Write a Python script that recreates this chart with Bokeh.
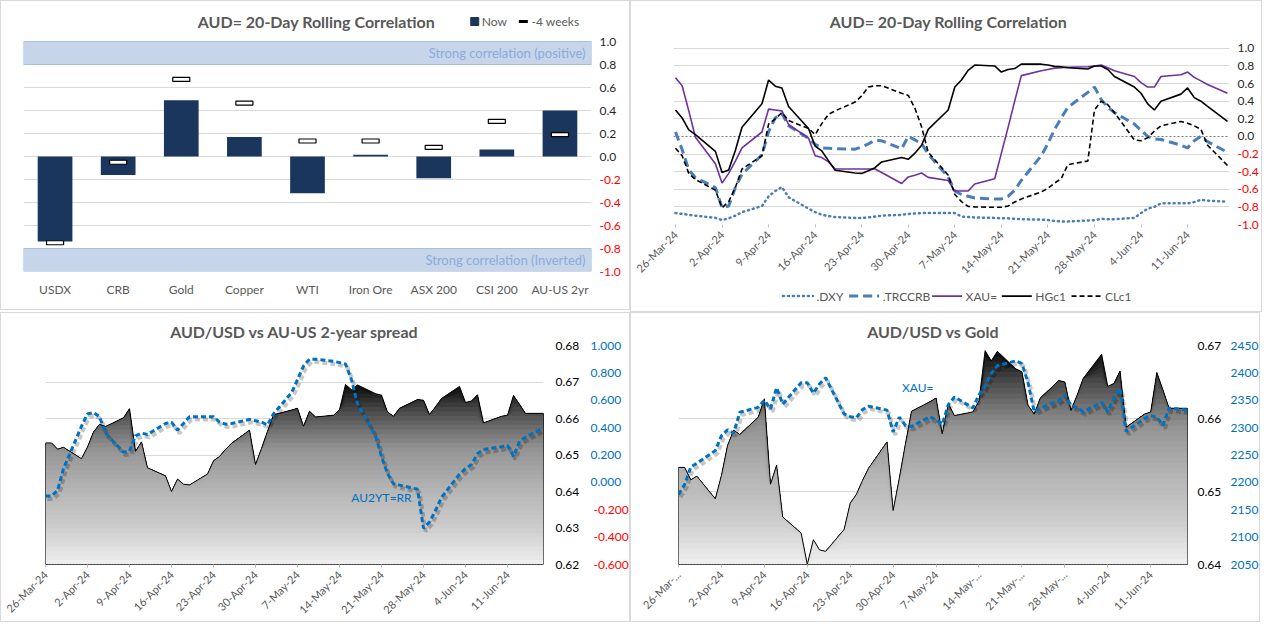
import numpy as np
import pandas as pd
from bokeh.plotting import figure
from bokeh.models import (Range1d, LinearAxis, FixedTicker, Label, Grid,
                          FactorRange, NumeralTickFormatter)
from bokeh.layouts import column, row
from bokeh.embed import file_html
from bokeh.resources import INLINE

# ------------------------------------------------------------------ data
categories = ["USDX", "CRB", "Gold", "Copper", "WTI", "Iron Ore", "ASX 200", "CSI 200", "AU-US 2yr"]
corr_now = [-0.74, -0.16, 0.49, 0.17, -0.32, 0.015, -0.19, 0.06, 0.40]
corr_4w = [-0.75, -0.05, 0.67, 0.465, 0.135, 0.135, 0.08, 0.305, 0.19]
STRONG = 0.8

start_date, end_date = "2024-03-26", "2024-06-17"   # trading days

dxy = [-0.87, -0.88, -0.89, -0.90,
       -0.925, -0.95, -0.93, -0.90, -0.86,
       -0.79, -0.68, -0.62, -0.575, -0.69,
       -0.82, -0.86, -0.89, -0.905, -0.915,
       -0.925, -0.925, -0.92, -0.91, -0.90,
       -0.89, -0.88, -0.875, -0.87, -0.87,
       -0.87, -0.87, -0.91, -0.915, -0.92,
       -0.925, -0.93, -0.93, -0.935, -0.94,
       -0.945, -0.95, -0.96, -0.965, -0.965,
       -0.955, -0.95, -0.935, -0.94, -0.94,
       -0.925, -0.87, -0.82, -0.80, -0.76,
       -0.76, -0.76, -0.745, -0.72, -0.73,
       -0.74]
trccrb = [0.05, -0.15, -0.38, -0.47,
          -0.58, -0.81, -0.79, -0.58, -0.43,
          -0.21, 0.055, 0.21, 0.26, 0.12,
          -0.02, -0.09, -0.13, -0.135, -0.14,
          -0.145, -0.12, -0.085, -0.045, -0.05,
          -0.14, 0.0, -0.04, -0.08, -0.20,
          -0.46, -0.62, -0.66, -0.68, -0.70,
          -0.71, -0.71, -0.68, -0.61, -0.50,
          -0.22, -0.08, 0.08, 0.21, 0.33,
          0.50, 0.56, 0.42, 0.33, 0.27,
          0.14, 0.07, 0.0, -0.03, -0.035,
          -0.10, -0.13, -0.05, 0.0, -0.06,
          -0.18]
xau_corr = [0.667, 0.575, 0.29, -0.01,
            -0.31, -0.53, -0.42, -0.28, -0.13,
            0.05, 0.31, 0.30, 0.29, 0.135,
            -0.02, -0.22, -0.24, -0.29, -0.37,
            -0.37, -0.37, -0.37, -0.37, -0.41,
            -0.535, -0.46, -0.44, -0.415, -0.465,
            -0.50, -0.62, -0.62, -0.62, -0.54,
            -0.48, -0.19, 0.10, 0.40, 0.69,
            0.745, 0.76, 0.775, 0.78, 0.785,
            0.79, 0.80, 0.81, 0.78, 0.745,
            0.68, 0.61, 0.56, 0.56, 0.68,
            0.70, 0.73, 0.67, 0.63, 0.59,
            0.49]
hgc1 = [0.30, 0.21, 0.075, 0.02,
        -0.17, -0.41, -0.38, -0.16, 0.105,
        0.37, 0.64, 0.57, 0.55, 0.34,
        0.09, -0.11, -0.165, -0.275, -0.385,
        -0.415, -0.42, -0.39, -0.355, -0.29,
        -0.24, -0.26, -0.19, -0.10, 0.08,
        0.30, 0.56, 0.64, 0.75, 0.81,
        0.80, 0.73, 0.76, 0.77, 0.82,
        0.82, 0.81, 0.795, 0.79, 0.78,
        0.765, 0.80, 0.80, 0.76, 0.68,
        0.56, 0.49, 0.37, 0.30, 0.40,
        0.48, 0.55, 0.44, 0.40, 0.34,
        0.17]
clc1 = [-0.135, -0.22, -0.42, -0.49,
        -0.61, -0.81, -0.74, -0.58, -0.37,
        -0.22, 0.14, 0.20, 0.27, 0.18,
        0.09, 0.02, 0.145, 0.25, 0.29,
        0.39, 0.46, 0.56, 0.575, 0.575,
        0.49, 0.465, 0.32, 0.11, -0.18,
        -0.44, -0.66, -0.74, -0.795, -0.80,
        -0.805, -0.805, -0.79, -0.745, -0.71,
        -0.63, -0.59, -0.53, -0.48, -0.32,
        -0.28, 0.30, 0.40, 0.36, 0.27,
        -0.04, -0.05, -0.015, 0.06, 0.12,
        0.17, 0.15, 0.12, 0.08, -0.10,
        -0.33]
audusd = [0.6533, 0.6533, 0.6516, 0.6521,
          0.6490, 0.6522, 0.6563, 0.6584, 0.6578,
          0.6602, 0.6627, 0.6510, 0.6536, 0.6465,
          0.6443, 0.6400, 0.6434, 0.6420, 0.6418,
          0.6448, 0.6484, 0.6496, 0.6515, 0.6532,
          0.6568, 0.6474, 0.6518, 0.6565, 0.6610,
          0.6623, 0.6628, 0.6579, 0.6620, 0.6604,
          0.6609, 0.6624, 0.6693, 0.6679, 0.6692,
          0.6668, 0.6664, 0.6618, 0.6606, 0.6628,
          0.6652, 0.6650, 0.6611, 0.6632, 0.6655,
          0.6688, 0.6644, 0.6648, 0.6665, 0.6588,
          0.6606, 0.6609, 0.6663, 0.6639, 0.6614,
          0.6614]
au2yt_spread = [-0.10, -0.10, -0.06, 0.10,
                0.41, 0.50, 0.51, 0.48, 0.36,
                0.22, 0.23, 0.34, 0.36, 0.35,
                0.43, 0.44, 0.38, 0.43, 0.48,
                0.48, 0.48, 0.44, 0.425, 0.43,
                0.46, 0.45, 0.44, 0.42, 0.50,
                0.655, 0.75, 0.85, 0.90, 0.90,
                0.885, 0.875, 0.865, 0.75, 0.575,
                0.34, 0.19, 0.065, -0.01, -0.02,
                -0.05, -0.335, -0.29, -0.205, -0.11,
                0.06, 0.10, 0.13, 0.21, 0.24,
                0.26, 0.27, 0.19, 0.30, 0.33,
                0.40]
gold = [2178, 2196, 2228, 2235,
        2258, 2285, 2296, 2290, 2328,
        2337, 2350, 2334, 2373, 2343,
        2382, 2382, 2363, 2380, 2391,
        2325, 2320, 2318, 2333, 2339,
        2332, 2292, 2319, 2304, 2302,
        2320, 2314, 2306, 2342, 2356,
        2336, 2360, 2376, 2399, 2413,
        2422, 2417, 2382, 2329, 2336,
        2349, 2360, 2340, 2337, 2329,
        2346, 2329, 2354, 2372, 2293,
        2317, 2322, 2319, 2304, 2336,
        2332]

tick_dates = ["2024-03-26", "2024-04-02", "2024-04-09", "2024-04-16", "2024-04-23", "2024-04-30",
              "2024-05-07", "2024-05-14", "2024-05-21", "2024-05-28", "2024-06-04", "2024-06-11"]
tick_labels = ["26-Mar-24", "2-Apr-24", "9-Apr-24", "16-Apr-24", "23-Apr-24", "30-Apr-24",
               "7-May-24", "14-May-24", "21-May-24", "28-May-24", "4-Jun-24", "11-Jun-24"]
tick_labels_gold = ["26-Mar-...", "2-Apr-24", "9-Apr-24", "16-Apr-24", "23-Apr-24", "30-Apr-24",
                    "7-May-24", "14-May-...", "21-May-...", "28-May-...", "4-Jun-24", "11-Jun-24"]

corr_ticks = [-1.0, -0.8, -0.6, -0.4, -0.2, 0.0, 0.2, 0.4, 0.6, 0.8, 1.0]
aud_ticks_l = [0.62, 0.63, 0.64, 0.65, 0.66, 0.67, 0.68]
spread_ticks = [-0.6, -0.4, -0.2, 0.0, 0.2, 0.4, 0.6, 0.8, 1.0]
aud_ticks_r = [0.64, 0.65, 0.66, 0.67]
gold_ticks = [2050, 2100, 2150, 2200, 2250, 2300, 2350, 2400, 2450]

legend_names = [".DXY", ".TRCCRB", "XAU=", "HGc1", "CLc1"]

# ------------------------------------------------------------------ style
FONT = "Lato"
TXT = "#595959"
DARK = "#262626"
GRID = "#d9d9d9"
RED = "#ff0000"
BLUE = "#0070c0"
SERIES_BLUE = "#4a7ebb"
NAVY = "#1b365d"
BORDER = {"border": "1px solid #d9d9d9"}
W, H = 630, 310

line_styles = {
    ".DXY": dict(line_color=SERIES_BLUE, line_width=2.5, line_dash="1 4", line_cap="round"),
    ".TRCCRB": dict(line_color=SERIES_BLUE, line_width=3, line_dash="9 5"),
    "XAU=": dict(line_color="#7030a0", line_width=1.6),
    "HGc1": dict(line_color="black", line_width=1.6),
    "CLc1": dict(line_color="black", line_width=1.6, line_dash="5 3"),
}

dates = pd.bdate_range(start_date, end_date)
day = np.array((dates - dates[0]).days, dtype=float)
tick_pos = [int((pd.Timestamp(t) - dates[0]).days) for t in tick_dates]
x_end = float(day[-1])


def base_fig(title, width=W, height=H, border=True, **kw):
    p = figure(width=width, height=height, output_backend="svg", toolbar_location=None,
               y_axis_location="right", **kw)
    if title:
        p.title.text = title
        p.title.align = "center"
        p.title.text_font = FONT
        p.title.text_font_size = "16px"
        p.title.text_font_style = "bold"
        p.title.text_color = TXT
    p.outline_line_color = None
    p.xgrid.grid_line_color = None
    p.ygrid.grid_line_color = GRID
    if border:
        p.styles = BORDER
    return p


def head_label(p, x, y, text, x_offset=0):
    p.add_layout(Label(x=x, y=y, x_offset=x_offset, text=text, text_align="center",
                       text_baseline="middle", text_color=TXT, text_font=FONT,
                       text_font_size="16px", text_font_style="bold"))


def style_axis(ax, color, size="12px"):
    ax.axis_line_color = None
    ax.major_tick_line_color = None
    ax.minor_tick_line_color = None
    ax.major_tick_out = 0
    ax.major_tick_in = 0
    ax.major_label_text_font = FONT
    ax.major_label_text_font_size = size
    ax.major_label_text_color = color


def extra_axis(p, ticks, fmt, color, standoff, range_name="default"):
    a = LinearAxis(y_range_name=range_name, ticker=FixedTicker(ticks=ticks),
                   formatter=NumeralTickFormatter(format=fmt))
    style_axis(a, color)
    a.major_label_standoff = standoff
    p.add_layout(a, "right")
    return a


def date_axis(p, labels, line_color=None, dash=None):
    ax = p.xaxis[0]
    ax.ticker = FixedTicker(ticks=tick_pos)
    ax.major_label_overrides = {t: s for t, s in zip(tick_pos, labels)}
    ax.major_label_orientation = np.pi / 4
    ax.major_label_text_font = FONT
    ax.major_label_text_font_size = "11px"
    ax.major_label_text_color = TXT
    ax.minor_tick_line_color = None
    ax.major_tick_in = 0
    ax.major_tick_out = 3
    ax.major_tick_line_color = "#bfbfbf"
    if line_color is None:
        ax.axis_line_color = None
    else:
        ax.axis_line_color = line_color
        ax.axis_line_dash = dash


def gray_at(t):
    v = np.interp(t, [0.0, 0.2, 0.42, 0.64, 0.74, 0.85, 0.95, 1.0],
                  [240, 205, 180, 148, 115, 75, 32, 10])
    v = int(round(v))
    return "#%02x%02x%02x" % (v, v, v)


def gradient_area(p, x, y, base, nbands=40):
    y = np.asarray(y, dtype=float)
    top = y.max()
    levels = np.linspace(base, top, nbands + 1)
    for k in range(nbands, 0, -1):
        t = (0.5 * (levels[k - 1] + levels[k]) - base) / (top - base)
        p.varea(x=x, y1=base, y2=np.minimum(y, levels[k]), fill_color=gray_at(t), fill_alpha=1.0)
    xs = np.concatenate([[x[0]], x, [x[-1]]])
    ys = np.concatenate([[base], y, [base]])
    p.patch(xs, ys, fill_alpha=0, line_color="black", line_width=1)


pos_corr = [t for t in corr_ticks if t >= 0]
neg_corr = [t for t in corr_ticks if t < 0]

# ------------------------------------------------------------------ panel 1 (bars)
# frame covers the title row too: 1.0 sits ~34 px below the frame top
p1_top = 1.0 + 34.0 / 115.0
head_y = 1.0 + 20.0 / 115.0
p1 = base_fig(None, x_range=FactorRange(factors=categories), y_range=Range1d(-1.0, p1_top),
              min_border_left=22, min_border_right=40, min_border_top=6, min_border_bottom=40)
p1.quad(left=0, right=len(categories), bottom=[STRONG, -1.0], top=[1.0, -STRONG],
        fill_color="#c6d5ea", line_color="#a9bfdd", line_width=1)
for yc, txt in [((STRONG + 1.0) / 2, "Strong correlation (positive)"),
                (-(STRONG + 1.0) / 2, "Strong correlation (Inverted)")]:
    p1.add_layout(Label(x=len(categories), y=yc, x_offset=-6, text=txt,
                        text_align="right", text_baseline="middle", text_color="#8eaadb",
                        text_font=FONT, text_font_size="13px"))
p1.vbar(x=categories, top=corr_now, bottom=0, width=0.55, fill_color=NAVY, line_color=None)
p1.rect(x=categories, y=corr_4w, width=0.27, height=4, height_units="screen",
        fill_color="white", line_color="black", line_width=1.2)
p1.ygrid.ticker = FixedTicker(ticks=corr_ticks)
ax = p1.yaxis[0]
ax.ticker = FixedTicker(ticks=pos_corr)
ax.formatter = NumeralTickFormatter(format="0.0")
style_axis(ax, DARK)
ax.major_label_standoff = 8
extra_axis(p1, neg_corr, "0.0", RED, -20)
style_axis(p1.xaxis[0], TXT)
p1.xaxis[0].major_label_standoff = 10
# title and legend in the head row
ncat = len(categories)
head_label(p1, ncat / 2, head_y, "AUD= 20-Day Rolling Correlation", x_offset=9)
p1.scatter(x=[ncat - 1.85], y=[head_y], marker="square", size=8, fill_color=NAVY, line_color=NAVY)
p1.scatter(x=[ncat - 1.08], y=[head_y], marker="dash", size=9, line_color="black", line_width=3)
p1.add_layout(Label(x=ncat - 1.74, y=head_y, text="Now", text_align="left", text_baseline="middle",
                    text_color=TXT, text_font=FONT, text_font_size="12px"))
p1.add_layout(Label(x=ncat - 0.95, y=head_y, text="-4 weeks", text_align="left", text_baseline="middle",
                    text_color=TXT, text_font=FONT, text_font_size="12px"))

# ------------------------------------------------------------------ panel 2 (lines)
# frame also covers the title row: 1.0 sits 41 px below the frame top, 88.5 px per unit
p2_top = 1.0 + 41.0 / 88.5
p2_head = 1.0 + 27.0 / 88.5
x2_lo, x2_hi = -0.3, x_end + 0.3
p2 = base_fig(None, height=282, border=False,
              x_range=Range1d(x2_lo, x2_hi), y_range=Range1d(-1.0, p2_top),
              min_border_left=42, min_border_right=6, min_border_top=6, min_border_bottom=56)
p2.ygrid.ticker = FixedTicker(ticks=[t for t in corr_ticks if t != 0])
p2.add_layout(Grid(dimension=1, ticker=FixedTicker(ticks=[0.0]), grid_line_color="#595959",
                   grid_line_dash="2 2", grid_line_width=0.8))
for name, ys in zip(legend_names, [dxy, trccrb, xau_corr, hgc1, clc1]):
    p2.line(day, ys, **line_styles[name])
ax = p2.yaxis[0]
ax.ticker = FixedTicker(ticks=pos_corr)
ax.formatter = NumeralTickFormatter(format="0.0")
style_axis(ax, DARK)
ax.major_label_standoff = 8
extra_axis(p2, neg_corr, "0.0", RED, -20)
date_axis(p2, tick_labels)
head_label(p2, (x2_lo + x2_hi) / 2, p2_head, "AUD= 20-Day Rolling Correlation", x_offset=-3)

# legend strip under panel 2
leg = figure(width=W, height=H - 282, output_backend="svg", toolbar_location=None,
             x_range=Range1d(0, W), y_range=Range1d(0, 1), x_axis_location=None, y_axis_location=None,
             min_border_left=0, min_border_right=0, min_border_top=0, min_border_bottom=0)
leg.grid.visible = False
leg.outline_line_color = None
leg_start = [124, 199, 293, 372, 451]
for name, x0 in zip(legend_names, leg_start):
    leg.line(x=[x0, x0 + 34], y=[0.55, 0.55], **line_styles[name])
    leg.add_layout(Label(x=x0 + 38, y=0.55, text=name, text_align="left", text_baseline="middle",
                         text_color=TXT, text_font=FONT, text_font_size="12px"))
panel2 = column(p2, leg, styles=BORDER)

# ------------------------------------------------------------------ panel 3
aud_lo, aud_hi = 0.62, 0.68
sp_lo, sp_hi = -0.6, 1.0
p3 = base_fig("AUD/USD vs AU-US 2-year spread",
              x_range=Range1d(0, x_end), y_range=Range1d(aud_lo, aud_hi),
              min_border_left=44, min_border_right=70, min_border_top=32, min_border_bottom=50)
frame_h3, frame_w3 = 226.0, 505.0
dy3 = 3 * (sp_hi - sp_lo) / frame_h3
dx3 = 2 * x_end / frame_w3
p3.extra_y_ranges = {"spread": Range1d(sp_lo, sp_hi), "shadow": Range1d(sp_lo + dy3, sp_hi + dy3)}
p3.extra_x_ranges = {"shadowx": Range1d(-dx3, x_end - dx3)}
p3.ygrid.ticker = FixedTicker(ticks=aud_ticks_l)
gradient_area(p3, day, audusd, aud_lo)
p3.line(day, au2yt_spread, x_range_name="shadowx", y_range_name="shadow",
        line_color="black", line_alpha=0.22, line_width=4, line_dash="5 3")
p3.line(day, au2yt_spread, y_range_name="spread", line_color=BLUE, line_width=3, line_dash="5 3")
ax = p3.yaxis[0]
ax.ticker = FixedTicker(ticks=aud_ticks_l)
ax.formatter = NumeralTickFormatter(format="0.00")
style_axis(ax, "black")
ax.major_label_standoff = 12
extra_axis(p3, [t for t in spread_ticks if t >= 0], "0.000", BLUE, 8, "spread")
extra_axis(p3, [t for t in spread_ticks if t < 0], "0.000", RED, -31, "spread")
date_axis(p3, tick_labels, line_color="#404040", dash="2 1")
p3.add_layout(Label(x=56, y=-0.11, y_range_name="spread", text="AU2YT=RR", text_color=BLUE,
                    text_font=FONT, text_font_size="12px", text_align="center", text_baseline="middle"))

# ------------------------------------------------------------------ panel 4
a4_lo, a4_hi = 0.64, 0.67
g_lo, g_hi = 2050, 2450
p4 = base_fig("AUD/USD vs Gold",
              x_range=Range1d(0, x_end), y_range=Range1d(a4_lo, a4_hi),
              min_border_left=47, min_border_right=60, min_border_top=32, min_border_bottom=50)
frame_h4, frame_w4 = 228.0, 511.0
dy4 = 3 * (g_hi - g_lo) / frame_h4
dx4 = 2 * x_end / frame_w4
p4.extra_y_ranges = {"gold": Range1d(g_lo, g_hi), "shadow": Range1d(g_lo + dy4, g_hi + dy4)}
p4.extra_x_ranges = {"shadowx": Range1d(-dx4, x_end - dx4)}
p4.ygrid.ticker = FixedTicker(ticks=aud_ticks_r)
gradient_area(p4, day, audusd, a4_lo)
p4.line(day, gold, x_range_name="shadowx", y_range_name="shadow",
        line_color="black", line_alpha=0.22, line_width=4, line_dash="5 3")
p4.line(day, gold, y_range_name="gold", line_color=BLUE, line_width=3, line_dash="5 3")
ax = p4.yaxis[0]
ax.ticker = FixedTicker(ticks=aud_ticks_r)
ax.formatter = NumeralTickFormatter(format="0.00")
style_axis(ax, "black")
ax.major_label_standoff = 10
extra_axis(p4, gold_ticks, "0", BLUE, 6, "gold")
date_axis(p4, tick_labels_gold, line_color="#404040", dash="2 1")
p4.add_layout(Label(x=39, y=2373, y_range_name="gold", text="XAU=", text_color=BLUE,
                    text_font=FONT, text_font_size="12px", text_align="center", text_baseline="middle"))

layout = column(row(p1, panel2), row(p3, p4))
open("out.html", "w").write(file_html(layout, INLINE))
